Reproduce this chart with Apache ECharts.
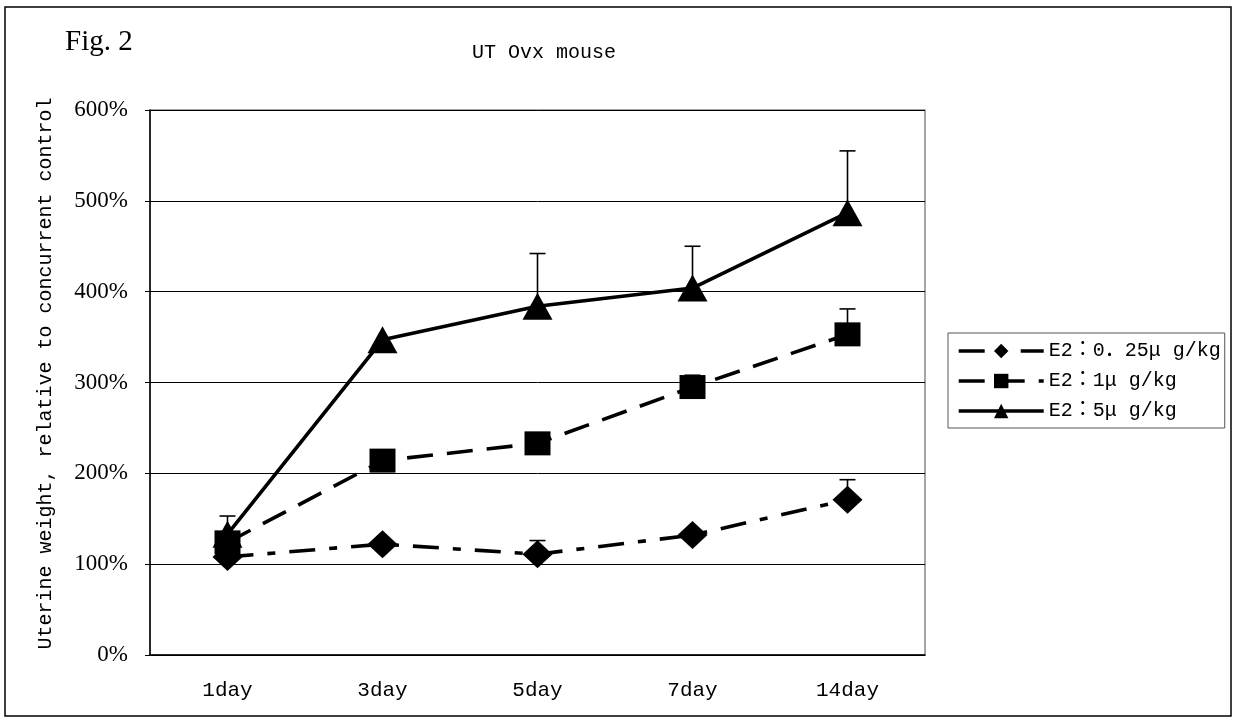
<!DOCTYPE html>
<html>
<head>
<meta charset="utf-8">
<script src="https://cdn.jsdelivr.net/npm/echarts@6/dist/echarts.min.js"></script>
<style>html,body{margin:0;padding:0;background:#fff}#c{width:1234px;height:720px}</style>
</head>
<body>
<div id="c"></div>
<script>
const categories = ['1day', '3day', '5day', '7day', '14day'];
const seriesNames = ['E2：0．25μ g/kg', 'E2：1μ g/kg', 'E2：5μ g/kg'];
const e025 = [108, 122, 111, 132, 171];
const e025Upper = [null, null, 126, null, 193];
const e1 = [124, 214, 233, 295, 353];
const e1Upper = [null, null, null, 308, 381];
const e5 = [133, 347, 384, 404, 487];
const e5Upper = [153, null, 442, 450, 555];
const titleText = 'UT Ovx mouse';
const figText = 'Fig. 2';
const yName = 'Uterine weight, relative to concurrent control';

const MONO = "'Liberation Mono', 'Noto Sans CJK JP', monospace";
const SERIF = "'Liberation Serif', serif";

function errData(vals, uppers) {
  const out = [];
  vals.forEach((v, i) => { if (uppers[i] != null) out.push([i, v, uppers[i]]); });
  return out;
}

function errSeries(vals, uppers) {
  return {
    type: 'custom',
    z: 1,
    silent: true,
    data: errData(vals, uppers),
    encode: { x: 0, y: [1, 2] },
    renderItem: function (params, api) {
      const p0 = api.coord([api.value(0), api.value(1)]);
      const p1 = api.coord([api.value(0), api.value(2)]);
      const style = { stroke: '#000', lineWidth: 1.6 };
      return {
        type: 'group',
        children: [
          { type: 'line', shape: { x1: p0[0], y1: p0[1], x2: p1[0], y2: p1[1] }, style: style },
          { type: 'line', shape: { x1: p1[0] - 8, y1: p1[1], x2: p1[0] + 8, y2: p1[1] }, style: style }
        ]
      };
    }
  };
}

function lineSeries(name, data, symbol, size, dash) {
  return {
    name: name,
    type: 'line',
    z: 3,
    data: data,
    symbol: symbol,
    symbolSize: size,
    showSymbol: true,
    itemStyle: { color: '#000', borderWidth: 0 },
    lineStyle: { color: '#000', width: 3.6, type: dash, cap: 'butt' },
    emphasis: { disabled: true },
    animation: false
  };
}

const chart = echarts.init(document.getElementById('c'), null, { renderer: 'canvas' });
chart.setOption({
  animation: false,
  backgroundColor: '#fff',
  title: {
    text: titleText,
    left: 467,
    top: 38,
    textStyle: { fontFamily: MONO, fontSize: 20, fontWeight: 'normal', color: '#000' }
  },
  graphic: [
    { type: 'rect', shape: { x: 5, y: 7, width: 1226, height: 709 }, style: { fill: null, stroke: '#000', lineWidth: 1.5 }, silent: true },
    { type: 'text', x: 65, y: 28, style: { text: figText, font: "29px 'Liberation Serif'", fill: '#000' }, silent: true }
  ],
  legend: {
    data: seriesNames,
    orient: 'vertical',
    left: 948,
    top: 333,
    itemWidth: 85,
    itemHeight: 18,
    itemGap: 10,
    padding: [8, 4, 7, 9],
    borderColor: '#555',
    borderWidth: 1,
    selectedMode: false,
    lineStyle: { width: 3.4 },
    textStyle: { fontFamily: MONO, fontSize: 20, color: '#000', lineHeight: 20 }
  },
  grid: {
    left: 150, top: 110, width: 775, height: 545,
    show: true, borderColor: '#888', borderWidth: 1.5, backgroundColor: '#fff'
  },
  xAxis: {
    type: 'category',
    data: categories,
    boundaryGap: true,
    axisLine: { lineStyle: { color: '#000', width: 1.5 } },
    axisTick: { inside: true, length: 7, lineStyle: { color: '#000', width: 1 } },
    axisLabel: { fontFamily: MONO, fontSize: 21, color: '#000', margin: 25 },
    splitLine: { show: false }
  },
  yAxis: {
    type: 'value',
    min: 0, max: 600, interval: 100,
    name: yName,
    nameLocation: 'middle',
    nameGap: 94,
    nameRotate: 90,
    nameTextStyle: { fontFamily: MONO, fontSize: 20, color: '#000', padding: [0, 0, 0, 18] },
    axisLine: { show: true, lineStyle: { color: '#000', width: 1.5 } },
    axisTick: { show: true, length: 5, lineStyle: { color: '#000' } },
    axisLabel: { fontFamily: SERIF, fontSize: 23, color: '#000', margin: 22, formatter: '{value}%' },
    splitLine: { show: true, lineStyle: { color: '#000', width: 1 } }
  },
  series: [
    errSeries(e025, e025Upper),
    errSeries(e1, e1Upper),
    errSeries(e5, e5Upper),
    lineSeries(seriesNames[0], e025, 'diamond', [30, 28], [26, 14, 8, 14]),
    lineSeries(seriesNames[1], e1, 'rect', [26, 24], [26, 14]),
    lineSeries(seriesNames[2], e5, 'triangle', [30, 27], 'solid')
  ]
});
</script>
</body>
</html>
